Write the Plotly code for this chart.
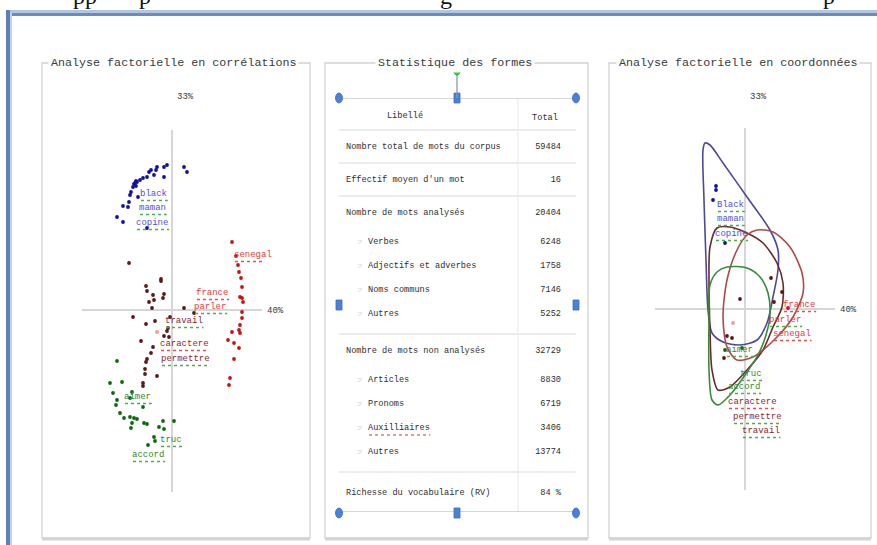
import plotly.graph_objects as go

# ---------------- data ----------------
# left panel: "Analyse factorielle en corrélations" (factor coords x100)
blue_x = [12, 15, -5, -8, -15, -16, -21, -23, -18, -8, -25, -29, -32, -35, -37, -36, -39, -34, -41, -42, -43, -49, -44, -55, -49, -25, -38, -36]
blue_y = [143, 138, 145, 143, 143, 140, 140, 138, 135, 133, 133, 132, 130, 128, 127, 124, 123, 113, 118, 115, 108, 104, 103, 93, 88, 82, 126, 129]
red_x = [60, 64, 66, 67, 69, 70, 68, 70, 71, 70, 70, 68, 67, 68, 60, 56, 62, 67, 62, 58, 57]
red_y = [68, 54, 45, 38, 32, 23, 13, 12, 8, -2, -8, -15, -20, -23, -22, -30, -33, -38, -49, -68, -75]
maroon_x = [-43, -11, -11, -26, -25, -19, -8, -18, -23, -9, -20, 12, 22, -39, -2, -17, -26, -4, -5, -8, -3, -31, -19, -21, -25, -26, -27, -27, -15, -29, -29]
maroon_y = [47, 31, 29, 24, 19, 15, 16, 10, 8, 12, 2, 2, -3, -7, -7, -11, -14, -18, -21, -26, -27, -31, -37, -43, -49, -52, -59, -64, -66, -73, -76]
green_x = [-55, -50, -62, -59, -55, -56, -40, -42, -29, -52, -48, -42, -38, -35, -40, -41, -28, -25, -9, 2, -13, -8, -18, -17, -24]
green_y = [-51, -72, -73, -83, -90, -95, -82, -88, -97, -103, -108, -107, -108, -109, -113, -118, -113, -114, -111, -111, -117, -119, -127, -131, -135]
pink_x = [-15]
pink_y = [-22]

left_labels = ["black", "maman", "copine", "senegal", "france", "parler", "travail", "caractere", "permettre", "aimer", "truc", "accord"]
left_lab_x = [-32, -33, -36, 62, 24, 22, -7, -12, -11, -48, -12, -40]
left_lab_y = [116, 102, 87, 55, 17, 3, -11, -34, -49, -87, -130, -145]
left_lab_group = ["b", "b", "b", "r", "r", "r", "m", "m", "m", "g", "g", "g"]
left_lab_ul = ["g", "g", "g", "r", "r", "g", "g", "r", "g", "g", "g", "g"]

# right panel: "Analyse factorielle en coordonnées"
rblue_x = [-29, -32, -29, -20]
rblue_y = [119, 109, 123, 66]
rmaroon_x = [-5, 26, 37, 29, -18, -13, -21]
rmaroon_y = [10, 31, 17, 7, -27, -29, -49]
rred_x = [43]
rred_y = [1]
rgreen_x = [-20, -3]
rgreen_y = [-41, -39]
rpink_x = [-12]
rpink_y = [-14]

cont_blue_x = [-40, -42, -41, -39, -37, -33, -22, -5, 12, 22, 28, 33, 33, 25, 2, -22, -35, -40]
cont_blue_y = [166, 159, 109, 49, -1, -24, -33, -36, -31, -14, 12, 39, 59, 79, 112, 146, 164, 166]
cont_maroon_x = [-28, -15, 2, 18, 32, 38, 37, 28, 18, 2, -15, -27, -33, -35, -36, -35, -28]
cont_maroon_y = [81, 82, 76, 66, 46, 26, 2, -18, -41, -61, -78, -81, -61, -21, 29, 62, 81]
cont_red_x = [12, 28, 45, 57, 58, 48, 32, 8, -8, -18, -22, -18, -8, 2, 12]
cont_red_y = [79, 77, 62, 36, 16, -8, -28, -48, -51, -38, -8, 29, 59, 74, 79]
cont_green_x = [-18, 2, 15, 23, 25, 21, 13, 0, -15, -27, -33, -36, -36, -35, -28, -18]
cont_green_y = [42, 41, 32, 16, -6, -26, -46, -66, -86, -96, -91, -61, -11, 24, 37, 42]

right_labels = ["Black", "maman", "copine", "france", "parler", "senegal", "aimer", "truc", "accord", "caractere", "permettre", "travail"]
right_lab_x = [-28, -28, -30, 38, 24, 28, -19, -5, -17, -17, -12, -3]
right_lab_y = [104, 90, 75, 4, -11, -25, -41, -65, -78, -93, -108, -122]
right_lab_group = ["b", "b", "b", "r", "r", "r", "g", "g", "g", "m", "m", "m"]
right_lab_ul = ["g", "g", "g", "r", "g", "r", "g", "g", "g", "r", "g", "g"]

axis_pct_x = "40%"
axis_pct_y = "33%"

# center table: "Statistique des formes"
table_header = ["Libellé", "Total"]
table_labels = ["Nombre total de mots du corpus", "Effectif moyen d'un mot", "Nombre de mots analysés",
                "Verbes", "Adjectifs et adverbes", "Noms communs", "Autres",
                "Nombre de mots non analysés",
                "Articles", "Pronoms", "Auxilliaires", "Autres",
                "Richesse du vocabulaire (RV)"]
table_totals = ["59484", "16", "20404", "6248", "1758", "7146", "5252",
                "32729", "8830", "6719", "3406", "13774", "84 %"]
table_levels = [0, 0, 0, 1, 1, 1, 1, 0, 1, 1, 1, 1, 0]

# ---------------- styling ----------------
W, H = 877, 545
MONO = "Liberation Mono"
PT_COL = {"b": "#1010a0", "r": "#cc1010", "m": "#5a1818", "g": "#0a6a0a"}
TXT_COL = {"b": "#5050e8", "r": "#e83a3a", "m": "#8a2a2a", "g": "#2e8b2e"}
UL_COL = {"g": "#4caf4c", "r": "#e85050"}
CHAR_W = 5.1


def PX(x):
    return x / W


def PY(y):
    return 1 - y / H


fig = go.Figure()
shapes = []
annotations = []


def pts(x, y, col, xa, ya, size=3.8, op=1.0):
    fig.add_trace(go.Scatter(x=x, y=y, mode="markers", xaxis=xa, yaxis=ya,
                             marker=dict(size=size, color=col, opacity=op, line=dict(width=0)),
                             hoverinfo="skip", showlegend=False))


def labels(txt, lx, ly, groups, uls, xa, ya, xref, yref):
    for t, x, y, g, u in zip(txt, lx, ly, groups, uls):
        fig.add_trace(go.Scatter(x=[x], y=[y], mode="text", text=[t], textposition="middle right",
                                 xaxis=xa, yaxis=ya, cliponaxis=False,
                                 textfont=dict(family=MONO, size=9, color=TXT_COL[g]),
                                 hoverinfo="skip", showlegend=False))
        shapes.append(dict(type="line", xref=xref, yref=yref, x0=x + 1, x1=x + 1 + len(t) * CHAR_W * 1.05,
                           y0=y - 6.5, y1=y - 6.5, line=dict(color=UL_COL[u], width=1.3, dash="dot")))


# left panel
pts(blue_x, blue_y, PT_COL["b"], "x", "y")
pts(red_x, red_y, PT_COL["r"], "x", "y")
pts(maroon_x, maroon_y, PT_COL["m"], "x", "y")
pts(green_x, green_y, PT_COL["g"], "x", "y")
pts(pink_x, pink_y, "#f0a0a0", "x", "y", size=4)
labels(left_labels, left_lab_x, left_lab_y, left_lab_group, left_lab_ul, "x", "y", "x", "y")

# right panel contours
for cx, cy, col in [(cont_blue_x, cont_blue_y, "#4a4a98"), (cont_maroon_x, cont_maroon_y, "#6a2a2a"),
                    (cont_red_x, cont_red_y, "#b04a4a"), (cont_green_x, cont_green_y, "#3a8a3a")]:
    fig.add_trace(go.Scatter(x=cx, y=cy, mode="lines", xaxis="x2", yaxis="y2",
                             line=dict(color=col, width=1.6, shape="spline", smoothing=0.8),
                             hoverinfo="skip", showlegend=False))
pts(rblue_x, rblue_y, PT_COL["b"], "x2", "y2")
pts(rmaroon_x, rmaroon_y, PT_COL["m"], "x2", "y2")
pts(rred_x, rred_y, PT_COL["r"], "x2", "y2")
pts(rgreen_x, rgreen_y, PT_COL["g"], "x2", "y2")
pts(rpink_x, rpink_y, "#f0a0a0", "x2", "y2", size=4)
labels(right_labels, right_lab_x, right_lab_y, right_lab_group, right_lab_ul, "x2", "y2", "x2", "y2")

# ---------------- table layout (computed from structure) ----------------
HEADER_H = 32
LABEL_X = {0: 7, 1: 29}
BULLET_X = 21
TOTAL_X = 222
COL_SEP = 179
TABLE_W = 237
row_y = []
seps = [HEADER_H]
cur = HEADER_H
i = 0
n = len(table_labels)
while i < n:
    last_block = (i == n - 1)
    row_y.append(cur + (21 if last_block else 17))
    j = i + 1
    sub_y = cur + 46
    while j < n and table_levels[j] == 1:
        row_y.append(sub_y)
        sub_y += 24
        j += 1
    if j > i + 1:
        cur = row_y[-1] + 20
    else:
        cur = cur + (40 if last_block else 33)
    seps.append(cur)
    i = j
TABLE_H = seps[-1]

for lvl in (0, 1):
    idx = [k for k in range(n) if table_levels[k] == lvl]
    fig.add_trace(go.Scatter(x=[LABEL_X[lvl]] * len(idx), y=[row_y[k] for k in idx],
                             text=[table_labels[k] for k in idx], mode="text", textposition="middle right",
                             xaxis="x3", yaxis="y3", cliponaxis=False,
                             textfont=dict(family=MONO, size=8.6, color="#2e2e2e"),
                             hoverinfo="skip", showlegend=False))
sub_idx = [k for k in range(n) if table_levels[k] == 1]
fig.add_trace(go.Scatter(x=[BULLET_X] * len(sub_idx), y=[row_y[k] for k in sub_idx],
                         text=["☞"] * len(sub_idx), mode="text", xaxis="x3", yaxis="y3",
                         textfont=dict(family="DejaVu Sans", size=6, color="#b0b0b0"),
                         hoverinfo="skip", showlegend=False, cliponaxis=False))
fig.add_trace(go.Scatter(x=[TOTAL_X] * n, y=row_y, text=table_totals, mode="text", textposition="middle left",
                         xaxis="x3", yaxis="y3", cliponaxis=False,
                         textfont=dict(family=MONO, size=8.6, color="#2e2e2e"),
                         hoverinfo="skip", showlegend=False))
fig.add_trace(go.Scatter(x=[66, 206], y=[18, 20], text=table_header, mode="text",
                         xaxis="x3", yaxis="y3", cliponaxis=False,
                         textfont=dict(family=MONO, size=8.6, color="#2e2e2e"),
                         hoverinfo="skip", showlegend=False))

for s in seps[:-1]:
    shapes.append(dict(type="line", xref="x3", yref="y3", x0=0, x1=TABLE_W, y0=s, y1=s,
                       line=dict(color="#e6e6e6", width=1.5)))
shapes.append(dict(type="line", xref="x3", yref="y3", x0=COL_SEP, x1=COL_SEP, y0=0, y1=TABLE_H,
                   line=dict(color="#ececec", width=1.2)))
for s in (0, TABLE_H):
    shapes.append(dict(type="line", xref="x3", yref="y3", x0=0, x1=TABLE_W, y0=s, y1=s,
                       line=dict(color="#c8c8c8", width=1.5)))
aux = table_labels.index("Auxilliaires")
shapes.append(dict(type="line", xref="x3", yref="y3", x0=LABEL_X[1] + 1,
                   x1=LABEL_X[1] + 1 + len("Auxilliaires") * CHAR_W, y0=row_y[aux] + 7, y1=row_y[aux] + 7,
                   line=dict(color="#e03030", width=1.2, dash="dot")))

# ---------------- frame / chrome ----------------
def prect(x0, y0, x1, y1, **kw):
    d = dict(type="rect", xref="paper", yref="paper", x0=PX(x0), x1=PX(x1), y0=PY(y1), y1=PY(y0), layer="below")
    d.update(kw)
    shapes.append(d)


def pline(x0, y0, x1, y1, color, width, layer="below"):
    shapes.append(dict(type="line", xref="paper", yref="paper", x0=PX(x0), x1=PX(x1), y0=PY(y0), y1=PY(y1),
                       line=dict(color=color, width=width), layer=layer))


# window chrome
prect(7, 10, 877, 13, fillcolor="#b3c6e0", line=dict(width=0))
prect(7, 13, 877, 16, fillcolor="#6a8bbd", line=dict(width=0))
prect(6, 10, 10, 545, fillcolor="#5f80b5", line=dict(width=0))
prect(10, 13, 12, 545, fillcolor="#c3d2e8", line=dict(width=0))

# panels
for (x0, x1) in [(42, 310), (325, 588), (609, 871)]:
    prect(x0, 63, x1, 538, line=dict(color="#d2d2d2", width=1.3), fillcolor="rgba(0,0,0,0)")
    pline(x0, 539, x1, 539, "#d4d4d4", 3)

# selection handles around table
HB = "#4a80d6"
for (cx, cy) in [(339, 98), (576, 98), (339, 513), (576, 513)]:
    shapes.append(dict(type="circle", xref="paper", yref="paper", x0=PX(cx - 3.5), x1=PX(cx + 3.5),
                       y0=PY(cy + 5), y1=PY(cy - 5), fillcolor=HB, line=dict(color="#3a6cc0", width=0.8)))
for (cx, cy) in [(457, 98), (457, 513), (339, 305), (576, 305)]:
    prect(cx - 3, cy - 5, cx + 3, cy + 5, fillcolor=HB, line=dict(color="#3a6cc0", width=0.8), layer="above")
pline(457, 73, 457, 98, "#7f99c4", 1.3, layer="above")
shapes.append(dict(type="circle", xref="paper", yref="paper", x0=PX(453.5), x1=PX(460.5), y0=PY(75), y1=PY(65),
                   fillcolor="#22dd22", line=dict(color="#18a018", width=0.8)))

# titles
for txt, cx in [("Analyse factorielle en corrélations", 173), ("Statistique des formes", 455),
                ("Analyse factorielle en coordonnées", 738)]:
    annotations.append(dict(text=txt, x=PX(cx), y=PY(63), xref="paper", yref="paper", showarrow=False,
                            xanchor="center", yanchor="middle", bgcolor="white", borderpad=2,
                            font=dict(family=MONO, size=11.7, color="#3a3a3a")))

# axis percentage labels
for cx, cy, t in [(185, 97, axis_pct_y), (275, 311, axis_pct_x), (758, 97, axis_pct_y), (848, 310, axis_pct_x)]:
    annotations.append(dict(text=t, x=PX(cx), y=PY(cy), xref="paper", yref="paper", showarrow=False,
                            xanchor="center", yanchor="middle", font=dict(family=MONO, size=9, color="#3a3a3a")))

# cut-off text of the document above (only the lower part shows)
for t, cx in [("pp", 85), ("p", 145), ("g", 446), ("p", 829)]:
    annotations.append(dict(text=t, x=PX(cx), y=PY(-4), xref="paper", yref="paper", showarrow=False,
                            xanchor="center", yanchor="middle",
                            font=dict(family="Liberation Serif", size=24, color="#111111")))

ax = dict(showgrid=False, showticklabels=False, ticks="", showline=False, zeroline=True,
          zerolinecolor="#d6d6d6", zerolinewidth=2, fixedrange=True)
hidden = dict(visible=False, showgrid=False, zeroline=False, fixedrange=True)

fig.update_layout(
    width=W, height=H, margin=dict(l=0, r=0, t=0, b=0), template="none",
    paper_bgcolor="white", plot_bgcolor="rgba(0,0,0,0)", showlegend=False,
    xaxis=dict(domain=[PX(82), PX(262)], range=[-90, 90], anchor="y", **ax),
    yaxis=dict(domain=[PY(492), PY(130)], range=[-182, 180], anchor="x", **ax),
    xaxis2=dict(domain=[PX(655), PX(835)], range=[-90, 90], anchor="y2", **ax),
    yaxis2=dict(domain=[PY(490), PY(128)], range=[-181, 181], anchor="x2", **ax),
    xaxis3=dict(domain=[PX(339), PX(576)], range=[0, TABLE_W], anchor="y3", **hidden),
    yaxis3=dict(domain=[PY(98 + TABLE_H), PY(98)], range=[TABLE_H, 0], anchor="x3", **hidden),
    shapes=shapes, annotations=annotations,
)

fig.write_html("out.html", config={"displayModeBar": False},
               post_script="document.body.style.margin='0';document.body.style.overflow='hidden';")
